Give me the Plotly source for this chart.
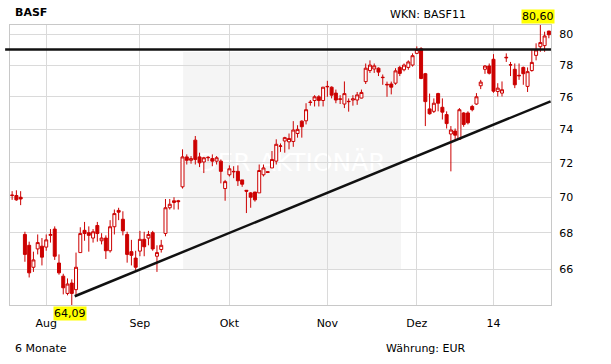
import math
import pandas as pd
import plotly.graph_objects as go

title = "BASF"
wkn = "WKN: BASF11"
period = "6 Monate"
currency = "Währung: EUR"
watermark = "DER AKTIONÄR"

holidays = ["2013-12-24", "2013-12-25", "2013-12-26", "2013-12-31", "2014-01-01"]
dates = [d.strftime("%Y-%m-%d") for d in pd.bdate_range("2013-07-22", "2014-01-21")
         if d.strftime("%Y-%m-%d") not in holidays]

opens = [70.10, 70.10, 70.00, 67.90, 67.30, 66.10, 67.10, 67.25, 67.20, 67.85,
         68.20, 66.33, 65.62, 64.70, 65.25, 64.90, 66.90, 68.13, 68.00, 67.70,
         68.40, 67.55, 67.70, 67.00, 68.33, 69.25, 68.75, 67.90, 66.95, 66.60,
         66.98, 67.63, 67.70, 68.00, 66.70, 67.07, 67.96, 69.40, 69.70, 69.80,
         70.60, 72.35, 72.15, 73.35, 72.35, 72.05, 72.30, 72.25, 72.10, 72.10,
         70.50, 71.30, 71.50, 71.50, 71.00, 70.40, 70.25, 70.30, 70.25, 71.30,
         71.48, 71.70, 72.10, 72.98, 73.30, 73.25, 73.27, 73.75, 74.50, 74.52,
         75.67, 75.77, 76.00, 75.77, 76.65, 76.60, 76.23, 75.87, 75.55, 75.72,
         75.80, 75.80, 75.92, 76.95, 77.65, 77.75, 77.80, 77.20, 76.78, 76.80,
         76.85, 77.85, 77.70, 77.85, 78.00, 78.75, 79.05, 77.45, 75.25, 75.10,
         76.20, 75.35, 74.90, 73.72, 73.90, 73.40, 75.00, 75.00, 75.40, 75.55,
         76.69, 77.73, 77.94, 78.37, 76.33, 76.23, 78.50, 78.00, 77.73, 77.35,
         77.85, 76.65, 77.65, 78.62, 79.18, 79.25, 80.20]
highs = [70.35, 70.40, 70.35, 68.05, 67.50, 66.95, 67.90, 67.70, 67.90, 68.20,
         68.35, 66.80, 65.75, 65.50, 65.45, 66.90, 68.30, 68.60, 68.35, 68.20,
         68.60, 67.97, 67.85, 68.70, 69.30, 69.40, 69.20, 68.05, 67.60, 67.00,
         68.10, 68.05, 68.10, 68.10, 67.30, 67.60, 69.90, 69.90, 70.00, 69.85,
         72.80, 72.50, 72.40, 73.60, 72.60, 72.35, 72.40, 72.50, 72.40, 72.20,
         71.00, 71.85, 71.80, 71.85, 71.00, 70.40, 70.30, 70.30, 71.90, 71.90,
         71.50, 72.70, 73.40, 73.15, 73.55, 73.75, 74.50, 74.25, 74.55, 75.60,
         75.80, 76.10, 76.10, 76.60, 77.00, 76.65, 76.45, 76.10, 76.96, 75.90,
         76.10, 76.30, 76.45, 78.10, 78.30, 78.10, 77.85, 77.40, 76.95, 76.95,
         77.80, 77.95, 78.10, 78.30, 78.75, 79.20, 79.15, 77.50, 76.20, 75.90,
         76.25, 75.90, 75.10, 74.20, 74.05, 75.30, 75.05, 75.10, 75.50, 76.23,
         77.06, 78.00, 78.10, 78.70, 76.85, 76.96, 78.75, 78.20, 78.10, 78.10,
         77.90, 77.85, 78.97, 79.40, 80.60, 80.16, 80.22]
lows = [69.85, 69.80, 69.55, 66.40, 65.55, 65.85, 66.80, 66.20, 67.00, 67.45,
        66.50, 65.70, 64.65, 64.60, 64.09, 64.60, 66.90, 67.55, 66.95, 67.45,
        67.50, 67.35, 66.55, 66.90, 67.90, 68.70, 67.85, 66.35, 66.20, 65.95,
        66.70, 66.70, 67.30, 67.00, 65.85, 66.90, 67.80, 69.30, 69.30, 69.30,
        70.50, 71.90, 71.95, 71.90, 71.75, 71.40, 72.10, 71.80, 71.90, 70.80,
        69.80, 71.20, 71.10, 70.65, 70.60, 69.10, 69.40, 69.75, 70.25, 71.20,
        71.40, 71.70, 71.90, 72.65, 72.60, 72.80, 72.95, 73.50, 73.50, 74.30,
        75.45, 75.40, 75.40, 75.40, 76.00, 75.90, 75.60, 75.55, 75.30, 75.08,
        75.45, 75.50, 75.90, 76.80, 77.50, 77.50, 77.30, 76.75, 76.00, 76.15,
        76.75, 77.30, 77.60, 77.70, 77.90, 78.70, 77.10, 74.20, 74.90, 75.00,
        75.10, 74.60, 74.05, 71.50, 73.37, 73.40, 74.16, 74.30, 75.10, 75.50,
        76.48, 77.44, 77.40, 76.25, 76.02, 76.02, 78.20, 77.30, 76.54, 77.06,
        76.75, 76.30, 77.58, 78.30, 78.85, 78.85, 79.73]
closes = [70.12, 69.85, 69.90, 66.80, 65.80, 66.50, 67.45, 66.65, 67.60, 67.90,
          66.70, 65.80, 65.00, 65.20, 64.70, 66.10, 67.95, 67.95, 67.85, 68.05,
          67.95, 67.70, 67.00, 68.33, 69.07, 69.15, 68.10, 66.80, 66.75, 66.10,
          67.63, 67.22, 67.90, 67.10, 66.90, 67.30, 69.40, 69.60, 69.80, 69.75,
          72.35, 72.15, 72.25, 72.20, 72.00, 72.30, 72.32, 72.10, 72.30, 71.50,
          70.90, 71.65, 71.48, 70.95, 70.75, 70.35, 70.00, 69.85, 71.55, 71.70,
          71.44, 72.20, 73.10, 73.00, 73.50, 73.45, 73.96, 74.00, 74.16, 75.20,
          75.65, 76.00, 75.77, 76.60, 76.63, 76.10, 75.80, 75.85, 76.20, 75.70,
          75.87, 76.12, 76.27, 77.80, 78.00, 77.95, 77.55, 77.22, 76.75, 76.60,
          77.63, 77.47, 78.00, 78.20, 78.60, 79.00, 77.15, 75.70, 74.95, 75.60,
          75.60, 75.05, 74.35, 73.96, 73.65, 75.20, 74.30, 74.40, 75.20, 76.00,
          76.92, 77.94, 77.48, 76.35, 76.54, 76.44, 78.47, 78.02, 76.75, 77.32,
          77.45, 77.58, 78.17, 78.97, 79.45, 79.88, 79.96]

month_keys = ["2013-08", "2013-09", "2013-10", "2013-11", "2013-12", "2014-01"]
month_labels = ["Aug", "Sep", "Okt", "Nov", "Dez", "14"]
y_ticks = [66, 68, 70, 72, 74, 76, 78, 80]

resistance = 79.0
support_x = [14.7, 126.4]
support_y = [64.55, 75.72]

RED = "#cc0000"
GRID = "#dadada"
FONT = "DejaVu Sans"

n = len(dates)
x = list(range(n))
tickvals = [next(i for i, d in enumerate(dates) if d.startswith(k)) for k in month_keys]

hi = max(highs)
lo = min(lows)
i_hi = highs.index(hi)
i_lo = lows.index(lo)

fig = go.Figure()
fig.add_trace(go.Candlestick(
    x=x, open=opens, high=highs, low=lows, close=closes,
    text=dates, hoverinfo="text+y",
    increasing=dict(line=dict(color=RED, width=1), fillcolor="#ffffff"),
    decreasing=dict(line=dict(color=RED, width=1), fillcolor=RED),
    whiskerwidth=0,
    showlegend=False,
))

shapes = [
    dict(type="rect", xref="paper", yref="paper", x0=0.32, x1=0.7227, y0=0.1286, y1=0.9036,
         fillcolor="#f5f5f5", line=dict(width=0), layer="below",
         label=dict(text=watermark, font=dict(family=FONT, size=25, color="#ffffff"),
                    textposition="middle center")),
    dict(type="line", xref="paper", yref="y", x0=-0.009, x1=1.0, y0=resistance, y1=resistance,
         line=dict(color="#111111", width=2.5), layer="above"),
    dict(type="line", xref="x", yref="y", x0=support_x[0], x1=support_x[1],
         y0=support_y[0], y1=support_y[1], line=dict(color="#111111", width=2.5), layer="above"),
]

annotations = [
    dict(text=f"<b>{title}</b>", xref="paper", yref="paper", x=0.005, y=1.044,
         xanchor="left", yanchor="middle", showarrow=False,
         font=dict(family=FONT, size=11, color="#000000")),
    dict(text=wkn, xref="paper", yref="paper", x=0.8466, y=1.039,
         xanchor="right", yanchor="middle", showarrow=False,
         font=dict(family=FONT, size=11, color="#000000")),
    dict(text=period, xref="paper", yref="paper", x=0.005, y=-0.1536,
         xanchor="left", yanchor="middle", showarrow=False,
         font=dict(family=FONT, size=11, color="#000000")),
    dict(text=currency, xref="paper", yref="paper", x=0.8466, y=-0.1536,
         xanchor="right", yanchor="middle", showarrow=False,
         font=dict(family=FONT, size=11, color="#000000")),
    dict(text=f"{hi:.2f}".replace(".", ","), x=i_hi, y=math.log10(hi),
         xanchor="center", yanchor="bottom", showarrow=False, yshift=1, xshift=-2,
         bgcolor="#ffff00", borderpad=0,
         font=dict(family=FONT, size=11, color="#000000")),
    dict(text=f"{lo:.2f}".replace(".", ","), x=i_lo, y=math.log10(lo),
         xanchor="center", yanchor="top", showarrow=False, yshift=-1, xshift=-2,
         bgcolor="#ffff00", borderpad=0,
         font=dict(family=FONT, size=11, color="#000000")),
]

fig.update_layout(
    width=611, height=364,
    margin=dict(l=10, r=60, t=25, b=59),
    paper_bgcolor="#ffffff", plot_bgcolor="#ffffff",
    font=dict(family=FONT, size=11, color="#000000"),
    shapes=shapes, annotations=annotations,
    hovermode="closest",
    boxgap=0.3, boxgroupgap=0.0,
)
fig.update_xaxes(
    range=[-0.5, n - 0.5], tickvals=tickvals, ticktext=month_labels,
    showgrid=True, gridcolor=GRID, gridwidth=1,
    showline=True, linecolor="#c8c8c8", linewidth=1, mirror=True,
    ticks="", ticklabelstandoff=8, zeroline=False,
    rangeslider=dict(visible=False),
    tickfont=dict(family=FONT, size=11),
)
fig.update_yaxes(
    type="log", range=[math.log10(lo), math.log10(hi)],
    side="right", tickvals=y_ticks, ticktext=[str(v) for v in y_ticks],
    showgrid=True, gridcolor=GRID, gridwidth=1,
    showline=True, linecolor="#c8c8c8", linewidth=1, mirror=True,
    ticks="", ticklabelstandoff=5, zeroline=False,
    tickfont=dict(family=FONT, size=11),
)

fig.write_html("out.html")
